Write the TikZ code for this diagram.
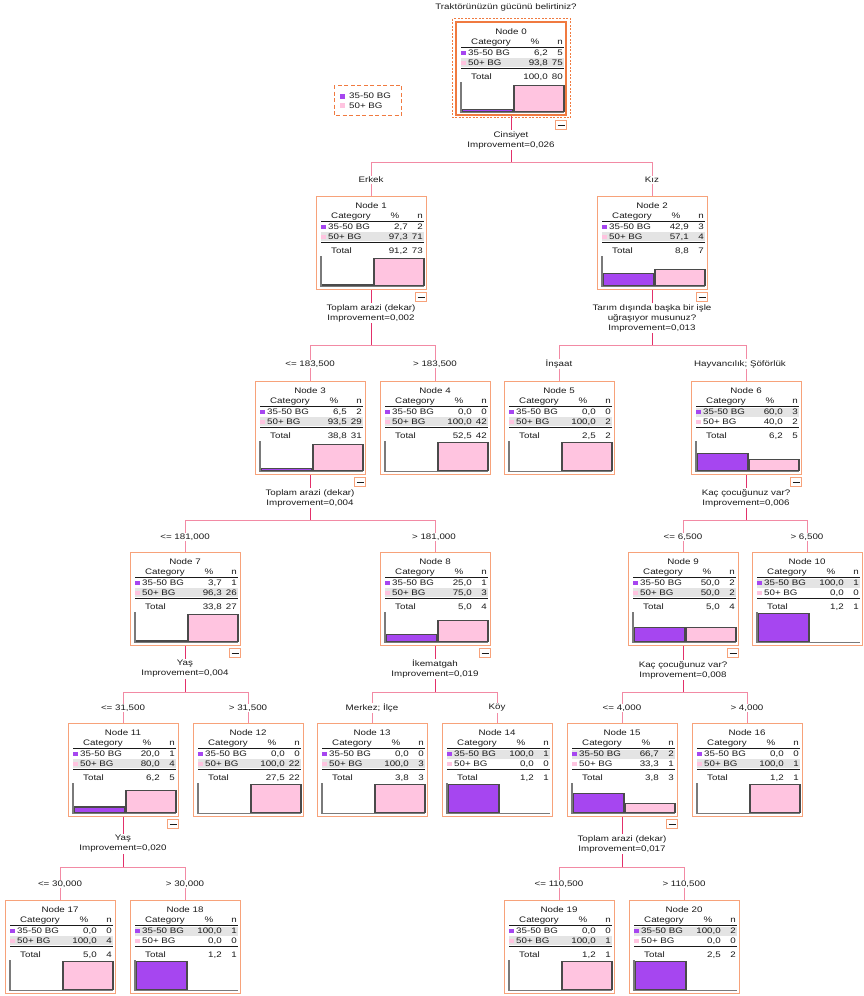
\documentclass[tikz,border=0pt]{standalone}
\usepackage{fontspec}
\setmainfont{Liberation Sans}[FakeStretch=1.22]
\usetikzlibrary{calc}
\definecolor{boxc}{HTML}{F7A27A}
\definecolor{selc}{HTML}{F07A40}
\definecolor{purp}{HTML}{A646F0}
\definecolor{pinkc}{HTML}{FFC4E0}
\definecolor{hlc}{HTML}{E4E4E4}
\definecolor{stemc}{HTML}{E2306A}
\definecolor{brc}{HTML}{F28AA4}
\definecolor{txtc}{HTML}{1A1A1A}
\definecolor{barc}{HTML}{4A4A4A}
\definecolor{axc}{HTML}{7A7A7A}
\def\tonum#1,#2\relax{#1.#2}
\tikzset{
  every node/.style={font=\fontsize{8}{10}\selectfont, text=txtc, inner sep=0pt},
  nodebox/.style={draw=boxc, line width=1.1pt, fill=white, minimum width=110pt, minimum height=93pt, anchor=north west},
  minusbox/.style={draw=boxc, line width=1pt, fill=white, minimum width=11pt, minimum height=9pt},
  barbox/.style={draw=barc, line width=1.2pt},
  axisline/.style={draw=axc, line width=1.6pt},
  stem/.style={draw=stemc, line width=1pt},
  branch/.style={draw=brc, line width=1pt},
  lbl/.style={fill=white, inner sep=1pt, align=center},
}
\newcommand\tnode[9]{%
\begin{scope}[shift={(#2,#3)}]
  \node[nodebox] (#1) at (0,0) {};
  \edef\pA{\tonum#5\relax}\edef\pB{\tonum#7\relax}%
  \ifdim\pA pt>\pB pt \fill[hlc] (5,26.5) rectangle (108,35.5);\else\fill[hlc] (5,36) rectangle (108,45);\fi
  \node[anchor=base] at (55,12.4) {Node #4};
  \node[anchor=base west] at (15,22.9) {Category};
  \node[anchor=base] at (79,22.9) {\%};
  \node[anchor=base east] at (107,22.9) {n};
  \draw[line width=0.8pt, txtc] (5,25.5) -- (108,25.5);
  \fill[purp] (5,29) rectangle (9.5,33);
  \node[anchor=base west] at (12,33.9) {35-50 BG};
  \node[anchor=base east] at (92,33.9) {#5};
  \node[anchor=base east] at (107,33.9) {#6};
  \fill[pinkc] (5,38.5) rectangle (9.5,42.5);
  \node[anchor=base west] at (12,43.4) {50+ BG};
  \node[anchor=base east] at (92,43.4) {#7};
  \node[anchor=base east] at (107,43.4) {#8};
  \draw[line width=1pt, txtc] (5,46.5) -- (108,46.5);
  \node[anchor=base west] at (15,57.4) {Total};
  \node[anchor=base east] at (92,57.4) {#9};
  \node[anchor=base east] at (107,57.4) {\the\numexpr#6+#8\relax};
  \ifdim\pA pt>0pt \draw[barbox, fill=purp] (6.5,89.5) rectangle (57,{89.5-0.28*\pA});\fi
  \ifdim\pB pt>0pt \draw[barbox, fill=pinkc] (58,89.5) rectangle (108,{89.5-0.28*\pB});\fi
  \draw[axisline] (5,60) -- (5,90.5) -- (108,90.5);
\end{scope}}
\newcommand\minusb[2]{%
  \node[minusbox, anchor=north east] (#1m) at ([yshift=-#2pt]#1.south east) {};
  \draw[line width=1pt, txtc] ([xshift=2.5pt]#1m.west) -- ([xshift=-2.5pt]#1m.east);}
\begin{document}
\begin{tikzpicture}[x=1pt,y=-1pt]
\useasboundingbox (0,0) rectangle (863,996);
\fill[white] (0,0) rectangle (863,996);
% title
\node (title) at (506,7) {Traktörünüzün gücünü belirtiniz?};
% legend
\draw[selc, line width=1pt, dash pattern=on 4pt off 2.5pt] (334,85) rectangle (401.5,115.5);
\fill[purp] (340,93.5) rectangle (345,98.5);
\node[anchor=west] (leg1) at (349,96) {35-50 BG};
\fill[pinkc] (340,103) rectangle (345,108);
\node[anchor=west] (leg2) at (349,105.5) {50+ BG};
% nodes
\tnode{n0}{456}{22}{0}{6,2}{5}{93,8}{75}{100,0}
\draw[selc, line width=1.6pt] (456,22) rectangle (566,115);
\draw[selc, line width=1pt, dash pattern=on 2pt off 1.5pt] (452.5,18.5) rectangle (570.5,117.5);
\tnode{n1}{316}{196}{1}{2,7}{2}{97,3}{71}{91,2}
\tnode{n2}{597}{196}{2}{42,9}{3}{57,1}{4}{8,8}
\tnode{n3}{255}{381}{3}{6,5}{2}{93,5}{29}{38,8}
\tnode{n4}{380}{381}{4}{0,0}{0}{100,0}{42}{52,5}
\tnode{n5}{504}{381}{5}{0,0}{0}{100,0}{2}{2,5}
\tnode{n6}{691}{381}{6}{60,0}{3}{40,0}{2}{6,2}
\tnode{n7}{130}{552}{7}{3,7}{1}{96,3}{26}{33,8}
\tnode{n8}{380}{552}{8}{25,0}{1}{75,0}{3}{5,0}
\tnode{n9}{628}{552}{9}{50,0}{2}{50,0}{2}{5,0}
\tnode{n10}{752}{552}{10}{100,0}{1}{0,0}{0}{1,2}
\tnode{n11}{68}{723}{11}{20,0}{1}{80,0}{4}{6,2}
\tnode{n12}{193}{723}{12}{0,0}{0}{100,0}{22}{27,5}
\tnode{n13}{317}{723}{13}{0,0}{0}{100,0}{3}{3,8}
\tnode{n14}{442}{723}{14}{100,0}{1}{0,0}{0}{1,2}
\tnode{n15}{567}{723}{15}{66,7}{2}{33,3}{1}{3,8}
\tnode{n16}{692}{723}{16}{0,0}{0}{100,0}{1}{1,2}
\tnode{n17}{5}{900}{17}{0,0}{0}{100,0}{4}{5,0}
\tnode{n18}{130}{900}{18}{100,0}{1}{0,0}{0}{1,2}
\tnode{n19}{504}{900}{19}{0,0}{0}{100,0}{1}{1,2}
\tnode{n20}{629}{900}{20}{100,0}{2}{0,0}{0}{2,5}
% minus boxes
\minusb{n0}{4}
\minusb{n1}{2}
\minusb{n2}{2}
\minusb{n3}{2}
\minusb{n6}{2}
\minusb{n7}{2}
\minusb{n8}{2}
\minusb{n9}{2}
\minusb{n11}{2}
\minusb{n15}{2}
% junction levels
\coordinate (h0) at (0,162);
\coordinate (h1) at (0,345);
\coordinate (h2) at (0,520);
\coordinate (h3) at (0,692);
\coordinate (h4) at (0,867);
\coordinate (j0) at (n0.south |- h0);
\coordinate (j1) at (n1.south |- h1);
\coordinate (j2) at (n2.south |- h1);
\coordinate (j3) at (n3.south |- h2);
\coordinate (j6) at (n6.south |- h2);
\coordinate (j7) at (n7.south |- h3);
\coordinate (j8) at (n8.south |- h3);
\coordinate (j9) at (n9.south |- h3);
\coordinate (j11) at (n11.south |- h4);
\coordinate (j15) at (n15.south |- h4);
% connectors
\draw[branch] (n1.north) |- (j0);
\draw[branch] (n2.north) |- (j0);
\draw[stem] (n0.south) -- (j0);
\draw[branch] (n3.north) |- (j1);
\draw[branch] (n4.north) |- (j1);
\draw[stem] (n1.south) -- (j1);
\draw[branch] (n5.north) |- (j2);
\draw[branch] (n6.north) |- (j2);
\draw[stem] (n2.south) -- (j2);
\draw[branch] (n7.north) |- (j3);
\draw[branch] (n8.north) |- (j3);
\draw[stem] (n3.south) -- (j3);
\draw[branch] (n9.north) |- (j6);
\draw[branch] (n10.north) |- (j6);
\draw[stem] (n6.south) -- (j6);
\draw[branch] (n11.north) |- (j7);
\draw[branch] (n12.north) |- (j7);
\draw[stem] (n7.south) -- (j7);
\draw[branch] (n13.north) |- (j8);
\draw[branch] (n14.north) |- (j8);
\draw[stem] (n8.south) -- (j8);
\draw[branch] (n15.north) |- (j9);
\draw[branch] (n16.north) |- (j9);
\draw[stem] (n9.south) -- (j9);
\draw[branch] (n17.north) |- (j11);
\draw[branch] (n18.north) |- (j11);
\draw[stem] (n11.south) -- (j11);
\draw[branch] (n19.north) |- (j15);
\draw[branch] (n20.north) |- (j15);
\draw[stem] (n15.south) -- (j15);
% split labels
\node[lbl] (s0) at (511,140) {Cinsiyet\\Improvement=0,026};
\node[lbl] (s1) at (371,313) {Toplam arazi (dekar)\\Improvement=0,002};
\node[lbl] (s2) at (652,318) {Tarım dışında başka bir işle\\uğraşıyor musunuz?\\Improvement=0,013};
\node[lbl] (s3) at (310,498) {Toplam arazi (dekar)\\Improvement=0,004};
\node[lbl] (s6) at (746,498) {Kaç çocuğunuz var?\\Improvement=0,006};
\node[lbl] (s7) at (185,669) {Yaş\\Improvement=0,004};
\node[lbl] (s8) at (435,669) {İkematgah\\Improvement=0,019};
\node[lbl] (s9) at (683,670) {Kaç çocuğunuz var?\\Improvement=0,008};
\node[lbl] (s11) at (123,844) {Yaş\\Improvement=0,020};
\node[lbl] (s15) at (622,844) {Toplam arazi (dekar)\\Improvement=0,017};
% branch labels
\node[lbl] (e1) at (371,180) {Erkek};
\node[lbl] (e2) at (652,180) {Kız};
\node[lbl] (e3) at (310,364) {<= 183,500};
\node[lbl] (e4) at (435,364) {> 183,500};
\node[lbl] (e5) at (559,364) {İnşaat};
\node[lbl] (e6) at (740,364) {Hayvancılık; Şöförlük};
\node[lbl] (e7) at (185,537) {<= 181,000};
\node[lbl] (e8) at (434,537) {> 181,000};
\node[lbl] (e9) at (683,537) {<= 6,500};
\node[lbl] (e10) at (807,537) {> 6,500};
\node[lbl] (e11) at (123,708) {<= 31,500};
\node[lbl] (e12) at (248,708) {> 31,500};
\node[lbl] (e13) at (372,708) {Merkez; İlçe};
\node[lbl] (e14) at (497,708) {Köy};
\node[lbl] (e15) at (622,708) {<= 4,000};
\node[lbl] (e16) at (747,708) {> 4,000};
\node[lbl] (e17) at (60,884) {<= 30,000};
\node[lbl] (e18) at (185,884) {> 30,000};
\node[lbl] (e19) at (559,884) {<= 110,500};
\node[lbl] (e20) at (684,884) {> 110,500};
\end{tikzpicture}
\end{document}
